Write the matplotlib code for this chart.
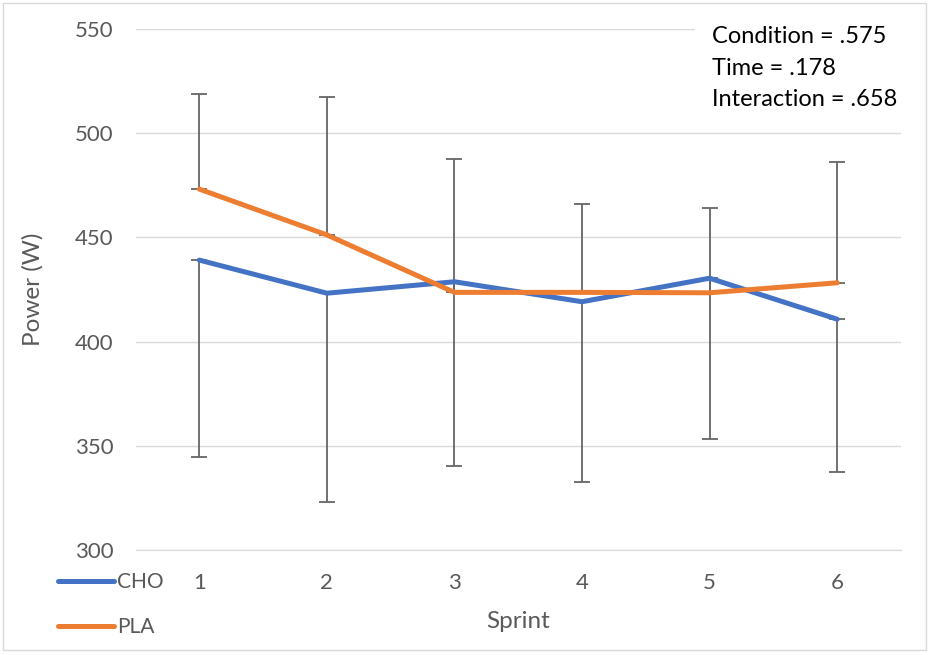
import numpy as np
import matplotlib
matplotlib.use("Agg")
import matplotlib.pyplot as plt
from matplotlib.patches import Rectangle

# ------------------------------------------------------------
# Data
# ------------------------------------------------------------
sprints = [1, 2, 3, 4, 5, 6]
cho_mean = [439.1, 423.2, 428.7, 419.1, 430.4, 410.7]
pla_mean = [473.2, 451.2, 423.6, 423.6, 423.4, 428.2]
cho_sd = [94.4, 100.1, 88.5, 86.7, 77.2, 73.4]   # drawn downward only
pla_sd = [45.7, 66.1, 64.2, 42.3, 40.6, 57.9]    # drawn upward only
stats_lines = ["Condition = .575", "Time = .178", "Interaction = .658"]

# ------------------------------------------------------------
# Style
# ------------------------------------------------------------
plt.rcParams["font.family"] = ["Lato", "DejaVu Sans"]
grey_txt = "#595959"
grid_col = "#D9D9D9"
blue = "#4472C4"
orange = "#ED7D31"
W, H = 931, 655

fig = plt.figure(figsize=(W / 100, H / 100), dpi=100)
ax = fig.add_axes([135.5 / W, 1 - 549.7 / H, (901 - 135.5) / W, (549.7 - 29.2) / H])

zeros = np.zeros(len(sprints))
err_kw = dict(fmt="none", ecolor="#666666", elinewidth=1.3, capsize=6, capthick=1.3, zorder=2)
ax.errorbar(sprints, cho_mean, yerr=[cho_sd, zeros], **err_kw)
ax.errorbar(sprints, pla_mean, yerr=[zeros, pla_sd], **err_kw)

ax.plot(sprints, cho_mean, color=blue, lw=3.6, solid_capstyle="round",
        solid_joinstyle="round", label="CHO", zorder=3)
ax.plot(sprints, pla_mean, color=orange, lw=3.6, solid_capstyle="round",
        solid_joinstyle="round", label="PLA", zorder=3)

ax.set_xlim(0.5, 6.5)
ax.set_ylim(300, 550)
ax.set_xticks(sprints)
ax.set_yticks(np.arange(300, 551, 50))
ax.grid(axis="y", color=grid_col, lw=1)
ax.set_axisbelow(True)
for side in ["top", "right", "left"]:
    ax.spines[side].set_visible(False)
ax.spines["bottom"].set_color(grid_col)
ax.tick_params(length=0, labelsize=16, labelcolor=grey_txt)
ax.tick_params(axis="x", pad=17)
ax.tick_params(axis="y", pad=16)

ax.set_xlabel("Sprint", fontsize=17.5, color=grey_txt)
ax.set_ylabel("Power (W)", fontsize=17.5, color=grey_txt)
ax.xaxis.set_label_coords(0.5, -0.117)
ax.yaxis.set_label_coords(-0.12, 0.5)

# stats box, white background hides the top gridline
ax.text(712 / W, 1 - 26 / H, "\n".join(stats_lines), transform=fig.transFigure,
        ha="left", va="top", fontsize=17, color="black", linespacing=1.63,
        bbox=dict(facecolor="white", edgecolor="none", pad=12), zorder=5)

fig.legend(loc="center left", bbox_to_anchor=(58 / W, 1 - 604.5 / H),
           frameon=False, fontsize=15, handlelength=2.7, handletextpad=0.12,
           labelspacing=1.2, borderpad=0, borderaxespad=0, labelcolor=grey_txt)

fig.add_artist(Rectangle((3 / W, 5 / H), (926 - 3) / W, (652 - 5) / H,
                         transform=fig.transFigure, fill=False,
                         edgecolor=grid_col, lw=1, zorder=10))

plt.savefig("out.png", dpi=100)
plt.close()
